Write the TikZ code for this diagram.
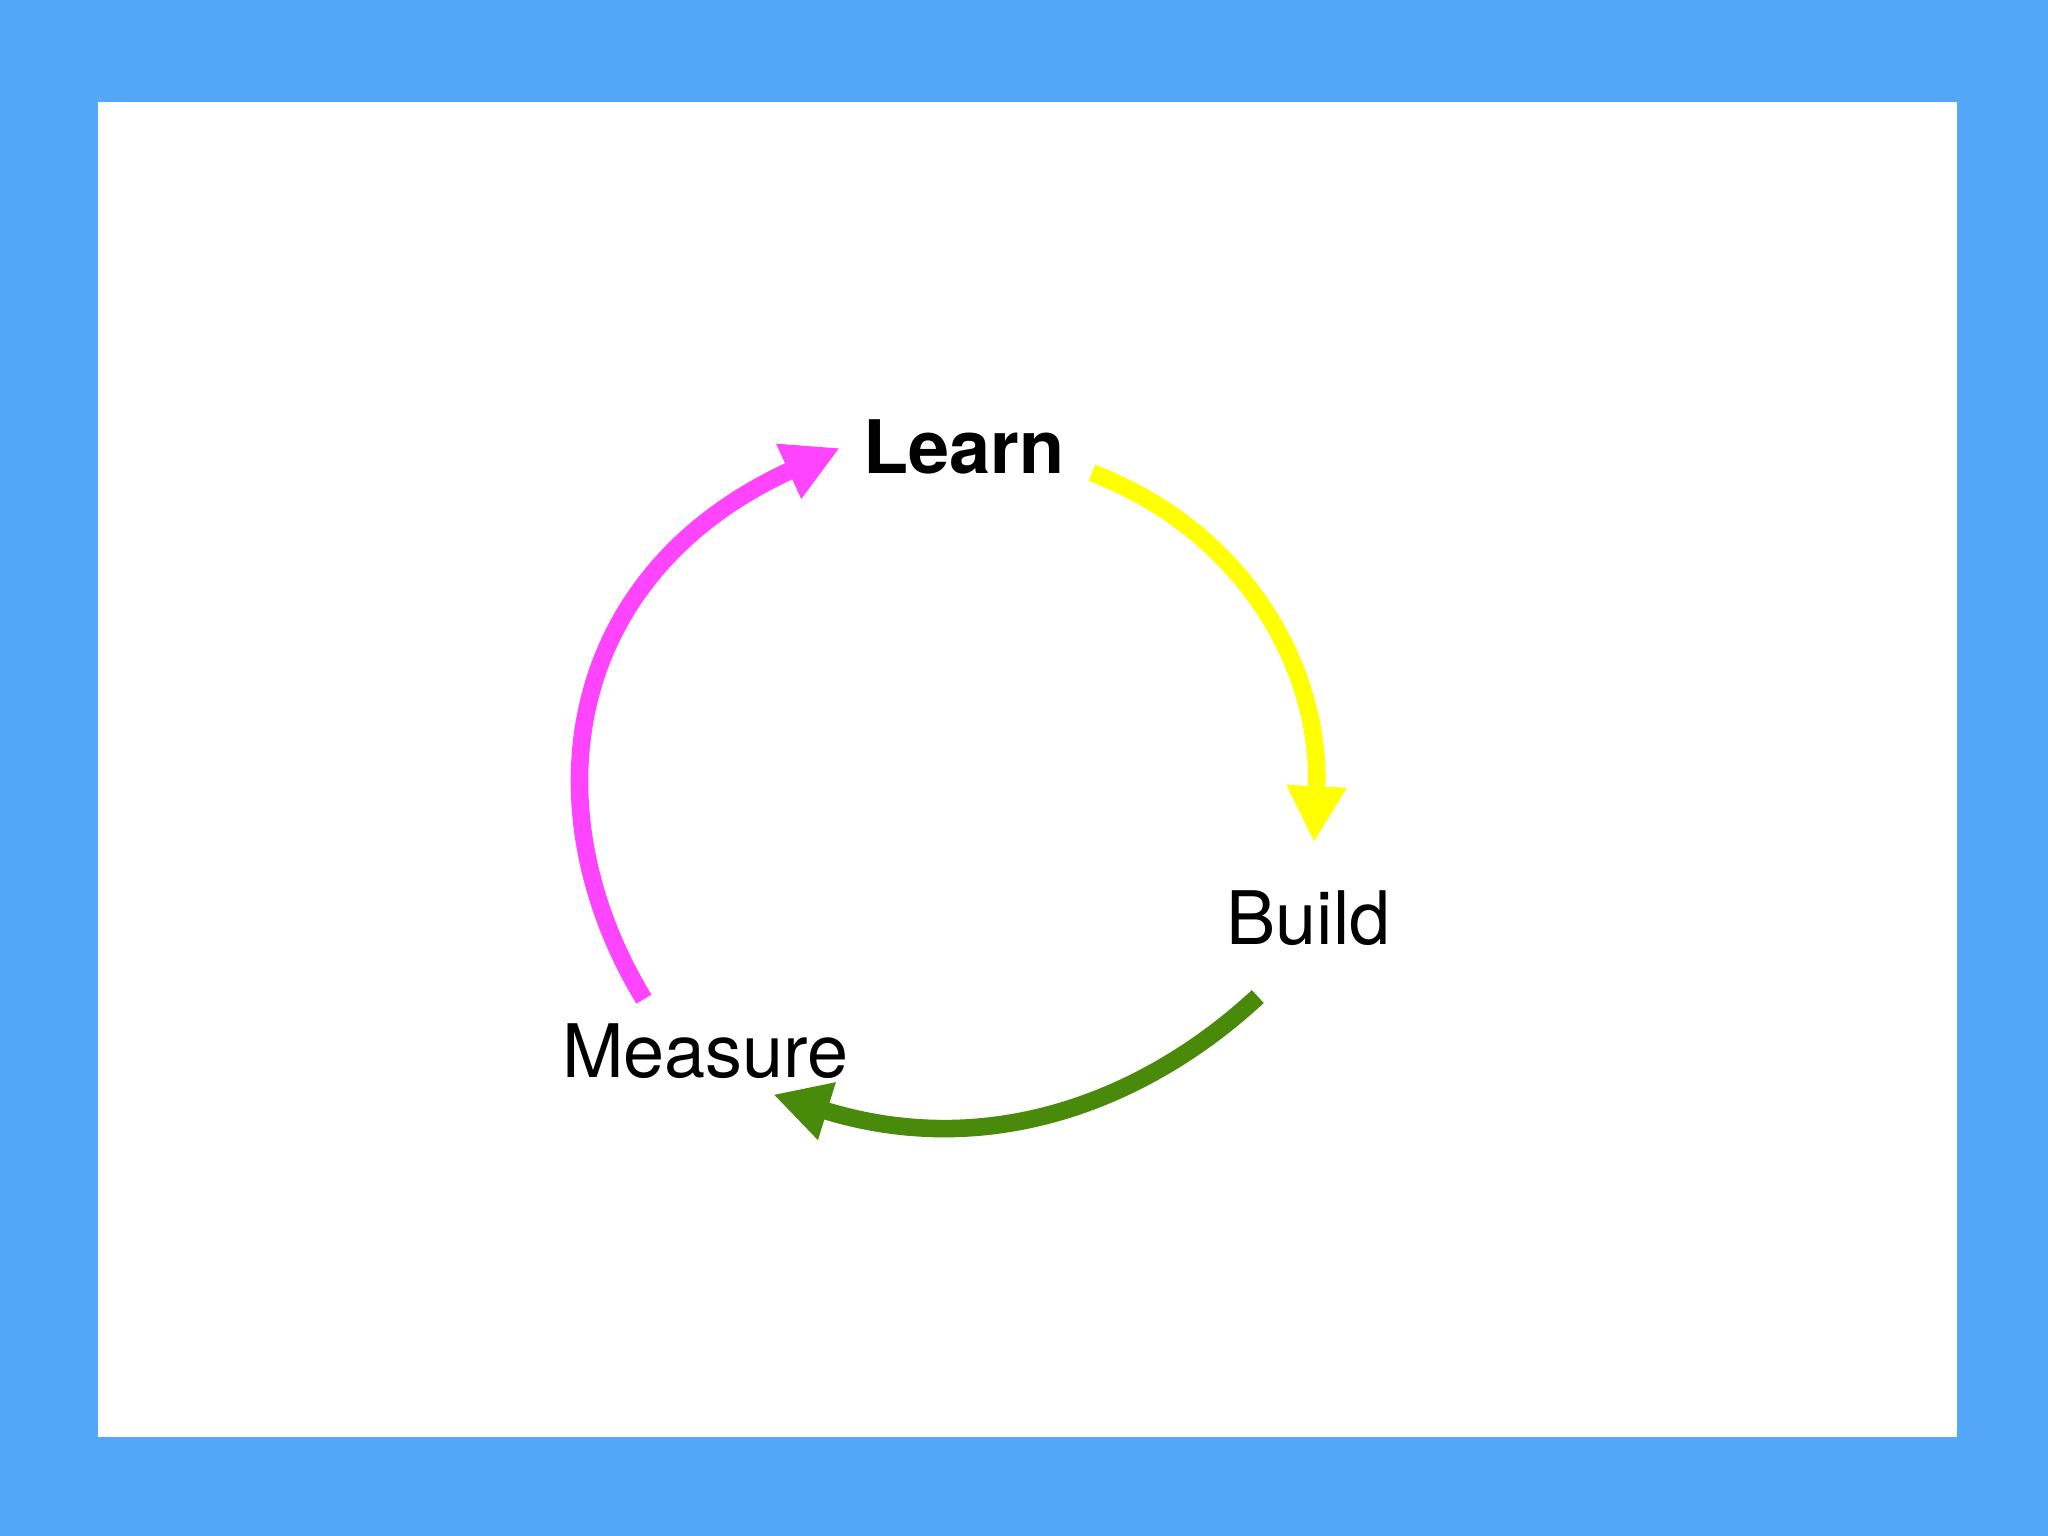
\documentclass[tikz,border=0pt]{standalone}
\usepackage{fontspec}
\setmainfont{TeX Gyre Heros}
\usetikzlibrary{arrows.meta}
\definecolor{bgblue}{HTML}{54A6F9}
\definecolor{yel}{HTML}{FFFF00}
\definecolor{grn}{HTML}{4A8A0A}
\definecolor{mag}{HTML}{FF44FF}
\tikzset{lbl/.style={font=\fontsize{21}{25}\selectfont, inner sep=0pt},
 cyc/.style={line width=5pt, -{Triangle[width=16pt,length=16pt]}}}
\begin{document}
\begin{tikzpicture}[x=0.013061cm,y=-0.013061cm]
\fill[bgblue] (0,0) rectangle (1568,1176);
\fill[white] (75,78) rectangle (1498,1100);
\node[lbl,font=\fontsize{21}{25}\selectfont\bfseries] (learn) at (738,342) {Learn};
\node[lbl] (build) at (1002,703) {Build};
\node[lbl] (measure) at (540,805) {Measure};
\coordinate (y1) at (836,362); \coordinate (y2) at (1006,645);
\coordinate (g1) at (963,763); \coordinate (g2) at (592,838);
\coordinate (m1) at (493,765); \coordinate (m2) at (643,343);
\draw[cyc,draw=yel,color=yel] (y1) .. controls (960,410) and (1012,520) .. (y2);
\draw[cyc,draw=grn,color=grn] (g1) .. controls (880,840) and (760,890) .. (g2);
\draw[cyc,draw=mag,color=mag] (m1) .. controls (405,620) and (430,440) .. (m2);
\end{tikzpicture}
\end{document}
